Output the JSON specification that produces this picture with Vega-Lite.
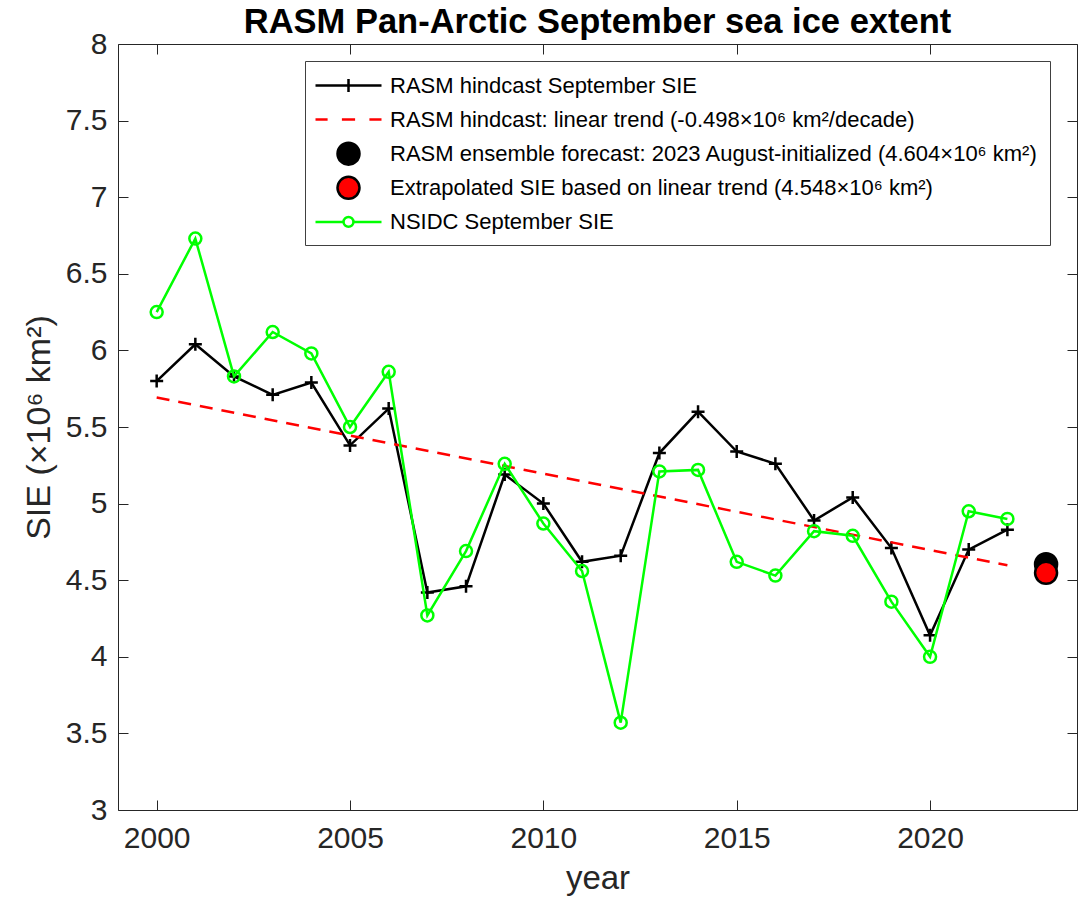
{
  "$schema": "https://vega.github.io/schema/vega-lite/v6.json",
  "width": 959,
  "height": 766,
  "autosize": {"type": "none"},
  "padding": {"left": 118, "top": 44, "right": 1, "bottom": 90},
  "background": "white",
  "config": {"view": {"stroke": null}, "font": "Liberation Sans"},
  "title": {"text": "RASM Pan-Arctic September sea ice extent", "font": "Liberation Sans", "fontSize": 34.5, "fontWeight": "bold", "color": "black", "anchor": "middle", "frame": "group", "offset": -11},
  "data": {"values": [
    {"year": 2000, "sie": 5.80, "s": "hindcast"},
    {"year": 2001, "sie": 6.04, "s": "hindcast"},
    {"year": 2002, "sie": 5.83, "s": "hindcast"},
    {"year": 2003, "sie": 5.71, "s": "hindcast"},
    {"year": 2004, "sie": 5.79, "s": "hindcast"},
    {"year": 2005, "sie": 5.38, "s": "hindcast"},
    {"year": 2006, "sie": 5.62, "s": "hindcast"},
    {"year": 2007, "sie": 4.42, "s": "hindcast"},
    {"year": 2008, "sie": 4.46, "s": "hindcast"},
    {"year": 2009, "sie": 5.19, "s": "hindcast"},
    {"year": 2010, "sie": 5.00, "s": "hindcast"},
    {"year": 2011, "sie": 4.62, "s": "hindcast"},
    {"year": 2012, "sie": 4.66, "s": "hindcast"},
    {"year": 2013, "sie": 5.33, "s": "hindcast"},
    {"year": 2014, "sie": 5.60, "s": "hindcast"},
    {"year": 2015, "sie": 5.34, "s": "hindcast"},
    {"year": 2016, "sie": 5.26, "s": "hindcast"},
    {"year": 2017, "sie": 4.89, "s": "hindcast"},
    {"year": 2018, "sie": 5.04, "s": "hindcast"},
    {"year": 2019, "sie": 4.71, "s": "hindcast"},
    {"year": 2020, "sie": 4.14, "s": "hindcast"},
    {"year": 2021, "sie": 4.70, "s": "hindcast"},
    {"year": 2022, "sie": 4.83, "s": "hindcast"},
    {"year": 2000, "sie": 5.693, "s": "trend"},
    {"year": 2022, "sie": 4.598, "s": "trend"},
    {"year": 2023, "sie": 4.604, "s": "forecast"},
    {"year": 2023, "sie": 4.548, "s": "extrap"},
    {"year": 2000, "sie": 6.25, "s": "nsidc"},
    {"year": 2001, "sie": 6.73, "s": "nsidc"},
    {"year": 2002, "sie": 5.83, "s": "nsidc"},
    {"year": 2003, "sie": 6.12, "s": "nsidc"},
    {"year": 2004, "sie": 5.98, "s": "nsidc"},
    {"year": 2005, "sie": 5.50, "s": "nsidc"},
    {"year": 2006, "sie": 5.86, "s": "nsidc"},
    {"year": 2007, "sie": 4.27, "s": "nsidc"},
    {"year": 2008, "sie": 4.69, "s": "nsidc"},
    {"year": 2009, "sie": 5.26, "s": "nsidc"},
    {"year": 2010, "sie": 4.87, "s": "nsidc"},
    {"year": 2011, "sie": 4.56, "s": "nsidc"},
    {"year": 2012, "sie": 3.57, "s": "nsidc"},
    {"year": 2013, "sie": 5.21, "s": "nsidc"},
    {"year": 2014, "sie": 5.22, "s": "nsidc"},
    {"year": 2015, "sie": 4.62, "s": "nsidc"},
    {"year": 2016, "sie": 4.53, "s": "nsidc"},
    {"year": 2017, "sie": 4.82, "s": "nsidc"},
    {"year": 2018, "sie": 4.79, "s": "nsidc"},
    {"year": 2019, "sie": 4.36, "s": "nsidc"},
    {"year": 2020, "sie": 4.00, "s": "nsidc"},
    {"year": 2021, "sie": 4.95, "s": "nsidc"},
    {"year": 2022, "sie": 4.90, "s": "nsidc"}
  ]},
  "encoding": {
    "x": {"field": "year", "type": "quantitative", "scale": {"domain": [1999, 2023.8], "nice": false, "zero": false}, "axis": null},
    "y": {"field": "sie", "type": "quantitative", "scale": {"domain": [3, 8], "nice": false, "zero": false}, "axis": null}
  },
  "layer": [
    {
      "transform": [{"filter": "datum.s === 'hindcast'"}],
      "mark": {"type": "line", "color": "black", "strokeWidth": 2.5},
      "encoding": {
        "x": {"field": "year", "type": "quantitative", "scale": {"domain": [1999, 2023.8], "nice": false, "zero": false},
          "axis": {"orient": "bottom", "values": [2000, 2005, 2010, 2015, 2020], "format": "d", "grid": false,
            "labelFont": "Liberation Sans", "labelFontSize": 30, "labelColor": "#262626", "labelFlush": false, "labelOverlap": false,
            "domainColor": "#262626", "tickColor": "#262626", "tickSize": -10, "labelPadding": 23,
            "title": "year", "titleFont": "Liberation Sans", "titleFontSize": 33, "titleFontWeight": "normal", "titleColor": "#262626", "titlePadding": 9}},
        "y": {"field": "sie", "type": "quantitative", "scale": {"domain": [3, 8], "nice": false, "zero": false},
          "axis": {"orient": "left", "values": [3, 3.5, 4, 4.5, 5, 5.5, 6, 6.5, 7, 7.5, 8], "format": ".1~f", "grid": false,
            "labelFont": "Liberation Sans", "labelFontSize": 30, "labelColor": "#262626", "labelFlush": false, "labelOverlap": false,
            "domainColor": "#262626", "tickColor": "#262626", "tickSize": -10, "labelPadding": 21,
            "title": "SIE (×10⁶ km²)", "titleFont": "Liberation Sans", "titleFontSize": 34, "titleFontWeight": "normal", "titleColor": "#262626", "titlePadding": 9}}
      }
    },
    {
      "transform": [{"filter": "datum.s === 'hindcast'"}],
      "mark": {"type": "point", "shape": "M-1,0H1M0,-1V1", "filled": false, "stroke": "black", "strokeWidth": 2.5, "size": 169, "opacity": 1}
    },
    {
      "transform": [{"filter": "datum.s === 'trend'"}],
      "mark": {"type": "line", "color": "#ff0000", "strokeWidth": 2.5, "strokeDash": [13, 9]}
    },
    {
      "transform": [{"filter": "datum.s === 'forecast' || datum.s === 'extrap'"}],
      "mark": {"type": "point", "filled": false, "size": 484, "opacity": 1},
      "encoding": {
        "color": {"field": "s", "type": "nominal", "sort": null,
          "scale": {"domain": ["hindcast", "trend", "forecast", "extrap", "nsidc"], "range": ["black", "#ff0000", "black", "black", "#00ff00"]},
          "legend": {"orient": "none", "legendX": 187, "legendY": 17, "title": null, "padding": 12,
            "fillColor": "white", "strokeColor": "#404040", "gridAlign": "all",
            "labelFont": "Liberation Sans", "labelFontSize": 22, "labelColor": "black", "labelLimit": 2000,
            "symbolSize": 484, "symbolOffset": 19, "labelOffset": 29, "rowPadding": 1.1, "symbolOpacity": 1,
            "labelExpr": "datum.value === 'hindcast' ? 'RASM hindcast September SIE' : datum.value === 'trend' ? 'RASM hindcast: linear trend (-0.498×10⁶ km²/decade)' : datum.value === 'forecast' ? 'RASM ensemble forecast: 2023 August-initialized (4.604×10⁶ km²)' : datum.value === 'extrap' ? 'Extrapolated SIE based on linear trend (4.548×10⁶ km²)' : 'NSIDC September SIE'"
          }},
        "fill": {"field": "s", "type": "nominal", "sort": null,
          "scale": {"domain": ["hindcast", "trend", "forecast", "extrap", "nsidc"], "range": ["transparent", "transparent", "black", "#ff0000", "transparent"]}},
        "strokeWidth": {"field": "s", "type": "nominal", "sort": null,
          "scale": {"domain": ["hindcast", "trend", "forecast", "extrap", "nsidc"], "range": [2.5, 2.5, 1, 1, 2.5]}},
        "shape": {"field": "s", "type": "nominal", "sort": null,
          "scale": {"domain": ["hindcast", "trend", "forecast", "extrap", "nsidc"],
            "range": ["M-3,0H3M0,-0.6V0.6", "M-3,0H-1.9M-0.6,0H0.6M1.9,0H3", "circle", "circle", "M-3,0H-0.45M0.45,0H3M0.45,0A0.45,0.45,0,1,1,-0.45,0A0.45,0.45,0,1,1,0.45,0"]}}
      }
    },
    {
      "transform": [{"filter": "datum.s === 'nsidc'"}],
      "mark": {"type": "line", "color": "#00ff00", "strokeWidth": 2.5}
    },
    {
      "transform": [{"filter": "datum.s === 'nsidc'"}],
      "mark": {"type": "point", "shape": "circle", "filled": false, "stroke": "#00ff00", "strokeWidth": 2.5, "size": 144, "opacity": 1},
      "encoding": {
        "x": {"field": "year", "type": "quantitative", "scale": {"domain": [1999, 2023.8], "nice": false, "zero": false},
          "axis": {"orient": "top", "values": [2000, 2005, 2010, 2015, 2020], "labels": false, "grid": false, "title": null,
            "domainColor": "#262626", "tickColor": "#262626", "tickSize": -10}},
        "y": {"field": "sie", "type": "quantitative", "scale": {"domain": [3, 8], "nice": false, "zero": false},
          "axis": {"orient": "right", "values": [3, 3.5, 4, 4.5, 5, 5.5, 6, 6.5, 7, 7.5, 8], "labels": false, "grid": false, "title": null,
            "domainColor": "#262626", "tickColor": "#262626", "tickSize": -10}}
      }
    }
  ],
  "resolve": {"axis": {"x": "independent", "y": "independent"}}
}
